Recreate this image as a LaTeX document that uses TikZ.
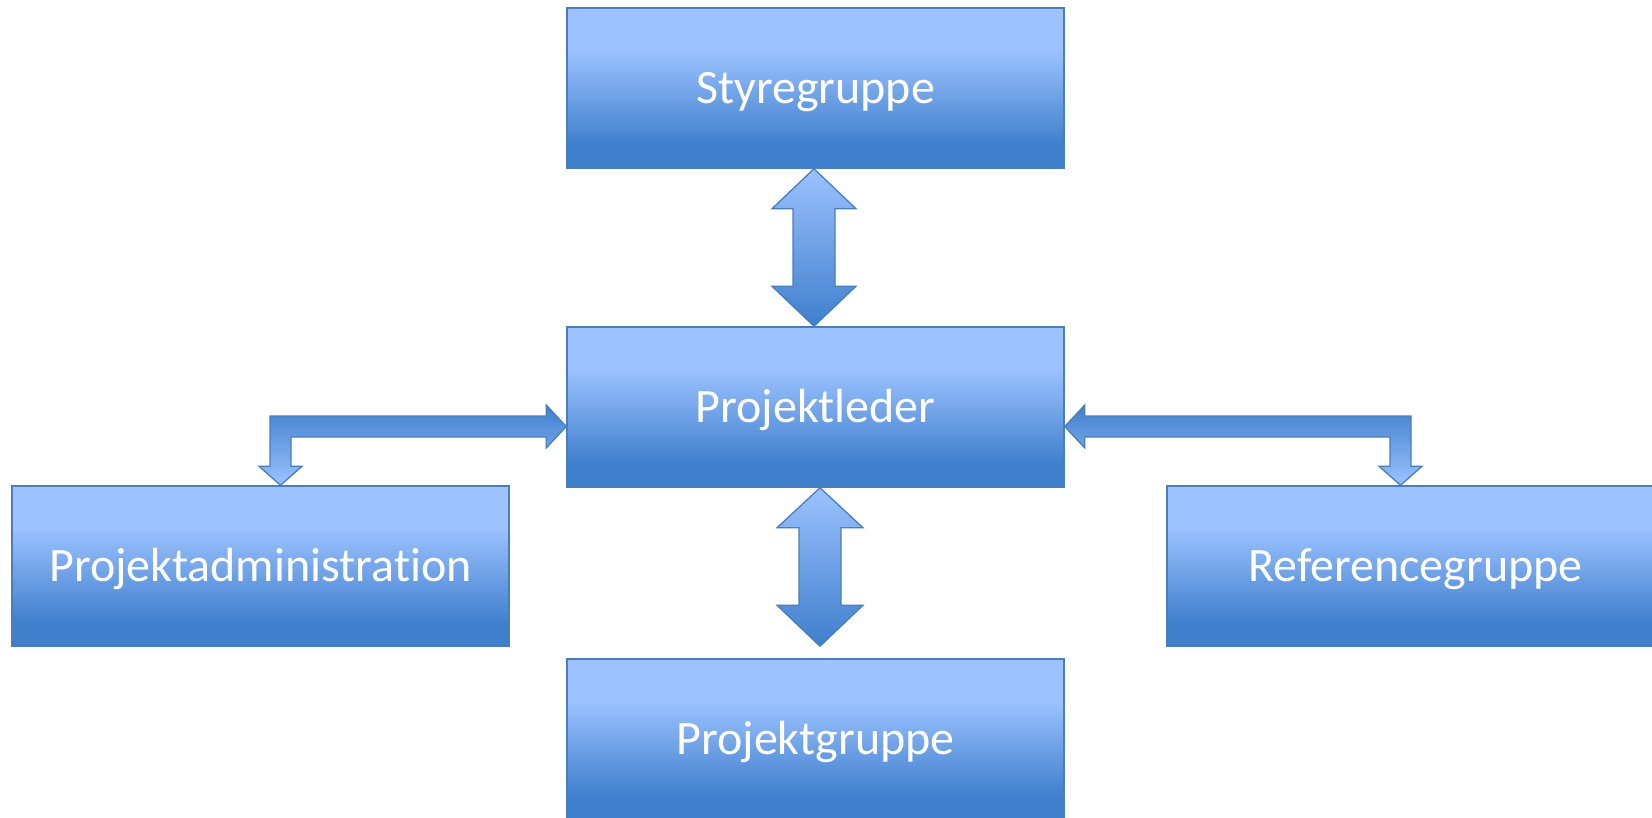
\documentclass[tikz,border=0pt]{standalone}
\usepackage{fontspec}
\setmainfont{Carlito}[RawFeature={-liga}]
\usetikzlibrary{calc}
\definecolor{lt}{HTML}{9CC2FF}
\definecolor{dk}{HTML}{3F7FCC}
\definecolor{edge}{HTML}{4A7EBB}
\pgfdeclareverticalshading{boxshade}{100bp}{color(0bp)=(dk); color(32bp)=(dk); color(62bp)=(lt); color(100bp)=(lt)}
\begin{document}
\begin{tikzpicture}[x=1pt,y=-1pt,
  orgbox/.style={draw=edge, line width=1.5pt, shading=boxshade, minimum width=497pt,
    minimum height=160pt, inner sep=0pt, text height=37pt, text depth=6pt,
    text=white, font=\fontsize{48}{58}\selectfont},
  varrow/.style={draw=edge, line width=1.3pt, top color=lt, bottom color=dk, line join=miter},
  barrow/.style={draw=edge, line width=1.3pt, top color=dk, bottom color=lt, line join=miter}]
\useasboundingbox (0,0) rectangle (1652,818);
\node[orgbox] (sg) at (815.5,88) {Styregruppe};
\node[orgbox] (pl) at (815.5,407) {Projektleder};
\node[orgbox] (pa) at (260.5,566) {Projektadministration};
\node[orgbox] (rg) at (1415.5,566) {Referencegruppe};
\node[orgbox] (pg) at (815.5,739) {Projektgruppe};
% Styregruppe <-> Projektleder
\coordinate (t1) at ($(sg.south)+(-1.5,0)$);
\coordinate (b1) at ($(pl.north)+(-1.5,0)$);
\path[varrow] (t1) -- ($(t1)+(42,40)$) -- ($(t1)+(21,40)$) -- ($(b1)+(21,-40)$) -- ($(b1)+(42,-40)$)
  -- (b1) -- ($(b1)+(-42,-40)$) -- ($(b1)+(-21,-40)$) -- ($(t1)+(-21,40)$) -- ($(t1)+(-42,40)$) -- cycle;
% Projektleder <-> Projektgruppe
\coordinate (t2) at ($(pl.south)+(4.5,0)$);
\coordinate (b2) at ($(pg.north)+(4.5,-12)$);
\path[varrow] (t2) -- ($(t2)+(43,40)$) -- ($(t2)+(21,40)$) -- ($(b2)+(21,-41)$) -- ($(b2)+(43,-41)$)
  -- (b2) -- ($(b2)+(-43,-41)$) -- ($(b2)+(-21,-41)$) -- ($(t2)+(-21,40)$) -- ($(t2)+(-43,40)$) -- cycle;
% Projektleder <-> Projektadministration
\coordinate (R) at ($(pl.west)+(0,19.5)$);
\coordinate (D) at ($(pa.north)+(20,0)$);
\coordinate (C) at (D |- R);
\path[barrow] (R) -- ++(-20,-21.5) -- ++(0,11) -- ($(C)+(-10.5,-10.5)$) -- ($(D)+(-10.5,-19)$)
  -- ++(-11,0) -- (D) -- ++(21.5,-19) -- ++(-11,0) -- ($(C)+(10.5,10.5)$) -- ($(R)+(-20,10.5)$)
  -- ++(0,11) -- cycle;
% Projektleder <-> Referencegruppe
\coordinate (R2) at ($(pl.east)+(0,19.5)$);
\coordinate (D2) at ($(rg.north)+(-15,0)$);
\coordinate (C2) at (D2 |- R2);
\path[barrow] (R2) -- ++(20,-21.5) -- ++(0,11) -- ($(C2)+(10.5,-10.5)$) -- ($(D2)+(10.5,-19)$)
  -- ++(11,0) -- (D2) -- ++(-21.5,-19) -- ++(11,0) -- ($(C2)+(-10.5,10.5)$) -- ($(R2)+(20,10.5)$)
  -- ++(0,11) -- cycle;
\end{tikzpicture}
\end{document}
